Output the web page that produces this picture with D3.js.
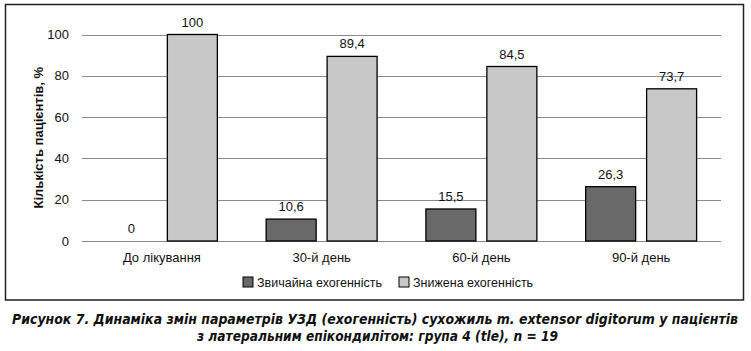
<!DOCTYPE html>
<html>
<head>
<meta charset="utf-8">
<script src="https://cdn.jsdelivr.net/npm/d3@7"></script>
<style>
  body { margin: 0; background: #fff; }
  svg { display: block; font-family: "Liberation Sans", Arial, sans-serif; }
</style>
</head>
<body>
<div id="chart"></div>
<script>
const categories = ["До лікування", "30-й день", "60-й день", "90-й день"];
const seriesNames = ["Звичайна ехогенність", "Знижена ехогенність"];
const normalValues = [0, 10.6, 15.5, 26.3];
const reducedValues = [100, 89.4, 84.5, 73.7];
const yTicks = [0, 20, 40, 60, 80, 100];
const colors = ["#696969", "#c8c8c8"];

const width = 751, height = 351;
const plot = { left: 82, right: 721, top: 34.5, bottom: 241 };

const data = categories.map((c, i) => ({ cat: c, vals: [normalValues[i], reducedValues[i]] }));

const svg = d3.select("#chart").append("svg")
  .attr("width", width)
  .attr("height", height);

// frame
svg.append("rect")
  .attr("x", 5.5).attr("y", 4.5)
  .attr("width", 738).attr("height", 295.5)
  .attr("fill", "none")
  .attr("stroke", "#222")
  .attr("stroke-width", 1.5);

const x0 = d3.scaleBand()
  .domain(categories)
  .range([plot.left, plot.right])
  .paddingInner(0)
  .paddingOuter(0);

const x1 = d3.scaleBand()
  .domain([0, 1])
  .range([24.4, x0.bandwidth() - 24.4])
  .paddingInner(0.18);

const y = d3.scaleLinear()
  .domain([0, 100])
  .range([plot.bottom, plot.top]);

// gridlines
svg.append("g")
  .selectAll("line")
  .data(yTicks)
  .enter()
  .append("line")
  .attr("x1", plot.left)
  .attr("x2", plot.right)
  .attr("y1", d => Math.round(y(d)) + 0.5)
  .attr("y2", d => Math.round(y(d)) + 0.5)
  .attr("stroke", "#8a8a8a")
  .attr("stroke-width", 1);

// y tick labels
svg.append("g")
  .selectAll("text")
  .data(yTicks)
  .enter()
  .append("text")
  .attr("x", 69)
  .attr("y", d => y(d) + 4.5)
  .attr("text-anchor", "end")
  .style("font-size", "13px")
  .style("fill", "#111")
  .text(d => d);

// y axis title
svg.append("text")
  .attr("transform", `translate(43,${(plot.top + plot.bottom) / 2}) rotate(-90)`)
  .attr("text-anchor", "middle")
  .style("font-size", "13px")
  .style("font-weight", "bold")
  .style("fill", "#111")
  .text("Кількість пацієнтів, %");

// bars
const groups = svg.append("g")
  .selectAll("g")
  .data(data)
  .enter()
  .append("g")
  .attr("transform", d => `translate(${x0(d.cat)},0)`);

groups.selectAll("rect")
  .data(d => d.vals.map((v, i) => ({ v, i })).filter(e => e.v > 0))
  .enter()
  .append("rect")
  .attr("x", d => x1(d.i))
  .attr("y", d => y(d.v))
  .attr("width", x1.bandwidth())
  .attr("height", d => y(0) - y(d.v))
  .attr("fill", d => colors[d.i])
  .attr("stroke", "#000")
  .attr("stroke-width", 1.3);

groups.selectAll("text")
  .data(d => d.vals.map((v, i) => ({ v, i })))
  .enter()
  .append("text")
  .attr("x", d => x1(d.i) + x1.bandwidth() / 2)
  .attr("y", d => y(d.v) - 8)
  .attr("text-anchor", "middle")
  .style("font-size", "13px")
  .style("fill", "#111")
  .text(d => String(d.v).replace(".", ","));

// category labels
svg.append("g")
  .selectAll("text")
  .data(categories)
  .enter()
  .append("text")
  .attr("x", d => x0(d) + x0.bandwidth() / 2)
  .attr("y", 262)
  .attr("text-anchor", "middle")
  .style("font-size", "13px")
  .style("fill", "#111")
  .text(d => d);

// legend
const legendX = [243, 399];
const legend = svg.append("g")
  .selectAll("g")
  .data(seriesNames)
  .enter()
  .append("g")
  .attr("transform", (d, i) => `translate(${legendX[i]},277)`);

legend.append("rect")
  .attr("width", 10).attr("height", 10)
  .attr("fill", (d, i) => colors[i])
  .attr("stroke", "#000")
  .attr("stroke-width", 1);

legend.append("text")
  .attr("x", 14)
  .attr("y", 9.5)
  .style("font-size", "12.5px")
  .style("fill", "#111")
  .text(d => d);

// caption
const caption = svg.append("g")
  .style("font-family", "'Liberation Sans Narrow', 'DejaVu Sans Condensed', 'Liberation Sans', sans-serif")
  .style("font-size", "14px")
  .style("font-weight", "bold")
  .style("font-style", "italic")
  .style("fill", "#111");

caption.append("text")
  .attr("x", 12)
  .attr("y", 324)
  .attr("textLength", 726)
  .attr("lengthAdjust", "spacingAndGlyphs")
  .text("Рисунок 7. Динаміка змін параметрів УЗД (ехогенність) сухожиль m. extensor digitorum у пацієнтів");

caption.append("text")
  .attr("x", 197)
  .attr("y", 341)
  .attr("textLength", 361)
  .attr("lengthAdjust", "spacingAndGlyphs")
  .text("з латеральним епікондилітом: група 4 (tle), n = 19");
</script>
</body>
</html>
